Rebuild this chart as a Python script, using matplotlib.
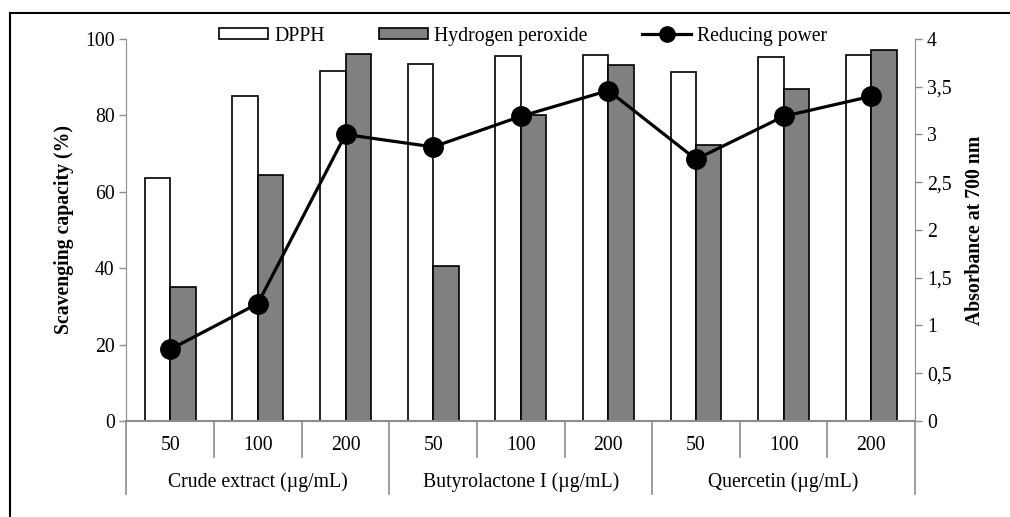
import matplotlib.pyplot as plt
from matplotlib.lines import Line2D
from matplotlib.ticker import FuncFormatter

plt.rcParams['font.family'] = ['Liberation Serif', 'DejaVu Serif']
plt.rcParams['font.size'] = 14.2

groups = ['Crude extract (µg/mL)', 'Butyrolactone I (µg/mL)', 'Quercetin (µg/mL)']
doses = ['50', '100', '200']
dpph = [63.5, 85.2, 91.6, 93.5, 95.5, 95.7, 91.3, 95.3, 95.8]
h2o2 = [35.2, 64.4, 96.0, 40.5, 80.0, 93.2, 72.3, 86.9, 97.2]
reducing = [0.75, 1.23, 3.0, 2.87, 3.19, 3.46, 2.74, 3.19, 3.40]

fs = 14.2
fig = plt.figure(figsize=(10.1, 5.17), dpi=100)
ax = fig.add_axes([0.1252, 0.1857, 0.7808, 0.7389])
ax2 = ax.twinx()

x = list(range(len(dpph)))
w = 0.29
ax.bar([i - w / 2 for i in x], dpph, w, color='white', edgecolor='black', linewidth=1.2, label='DPPH')
ax.bar([i + w / 2 for i in x], h2o2, w, color='#808080', edgecolor='black', linewidth=1.2, label='Hydrogen peroxide')
ax2.plot(x, reducing, color='black', lw=2.3, marker='o', markersize=14, label='Reducing power')

grey = '#8c8c8c'
ax.set_xlim(-0.5, 8.5)
ax.set_ylim(0, 100)
ax.set_yticks([0, 20, 40, 60, 80, 100])
ax2.set_ylim(0, 4)
ax2.set_yticks([0, 0.5, 1, 1.5, 2, 2.5, 3, 3.5, 4])
ax2.yaxis.set_major_formatter(FuncFormatter(lambda v, p: ('%g' % v).replace('.', ',')))

for a in (ax, ax2):
    a.spines['top'].set_visible(False)
    a.spines['bottom'].set_visible(False)
    a.spines['left'].set_color(grey)
    a.spines['right'].set_color(grey)
    a.tick_params(axis='y', colors=grey, length=5, width=1, labelcolor='black', labelsize=fs)
ax2.spines['left'].set_visible(False)
ax.spines['right'].set_visible(False)
ax.set_xticks([])

ax.set_ylabel('Scavenging capacity (%)', fontweight='bold', fontsize=fs, labelpad=8)
ax2.set_ylabel('Absorbance at 700 nm', fontweight='bold', fontsize=fs, labelpad=10)

# category axis
trans = ax.get_xaxis_transform()
ax.plot([-0.5, 8.5], [0, 0], color=grey, lw=1.5, transform=trans, clip_on=False, zorder=5)
for i in range(10):
    xb = i - 0.5
    low = -0.191 if i % 3 == 0 else -0.094
    ax.plot([xb, xb], [0, low], color=grey, lw=1.2, transform=trans, clip_on=False)
for i in x:
    ax.text(i, -0.065, doses[i % 3], transform=trans, ha='center', va='center', fontsize=fs)
for g, name in enumerate(groups):
    ax.text(g * 3 + 1, -0.16, name, transform=trans, ha='center', va='center', fontsize=fs)

handles = [
    plt.Rectangle((0, 0), 1, 1, facecolor='white', edgecolor='black', linewidth=1.2),
    plt.Rectangle((0, 0), 1, 1, facecolor='#808080', edgecolor='black', linewidth=1.2),
    Line2D([], [], color='black', lw=2.3, marker='o', markersize=11),
]
fig.legend(handles, ['DPPH', 'Hydrogen peroxide', 'Reducing power'], loc='center',
           bbox_to_anchor=(0.518, 0.93), ncol=3, frameon=False, fontsize=fs,
           handlelength=2.5, handleheight=0.5, handletextpad=0.3, columnspacing=2.75)

# outer frame (top and left edges)
fig.add_artist(Line2D([0.0099, 1.0], [0.975, 0.975], color='black', lw=1.5, transform=fig.transFigure))
fig.add_artist(Line2D([0.0099, 0.0099], [0.0, 0.975], color='black', lw=1.5, transform=fig.transFigure))

fig.savefig('out.png', dpi=100)
